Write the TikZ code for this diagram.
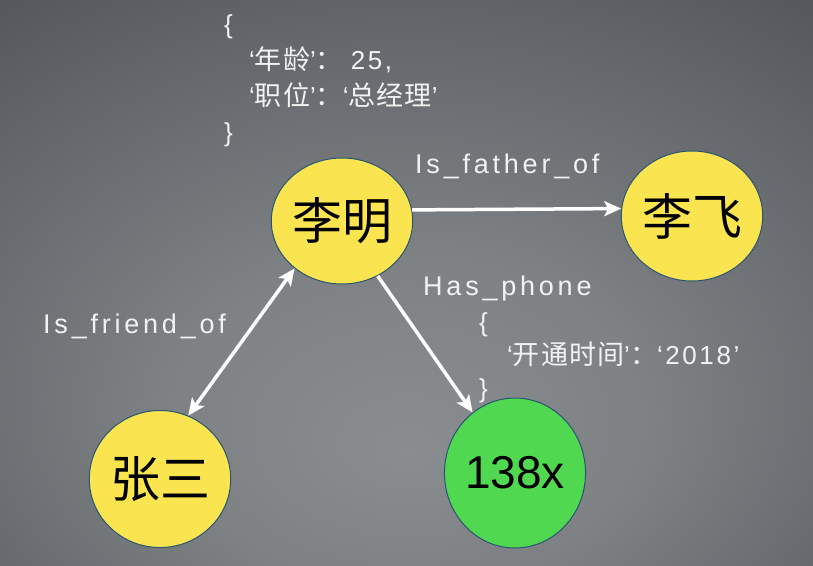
\documentclass[tikz,border=0pt]{standalone}
\usepackage{fontspec}
\setmainfont{Liberation Sans}
\newfontfamily\cjk{Noto Sans CJK SC}
\newfontfamily\cjkwide[LetterSpace=4]{Noto Sans CJK SC}
\newfontfamily\latinwide[LetterSpace=10]{Liberation Sans}
\newfontfamily\labelfont[LetterSpace=14]{Liberation Sans}
\usetikzlibrary{arrows.meta,positioning,shapes.geometric}

\definecolor{nodeyellow}{RGB}{250,229,80}
\definecolor{nodegreen}{RGB}{80,216,80}
\definecolor{nodeline}{RGB}{40,85,115}
\definecolor{bglight}{RGB}{138,141,143}
\definecolor{bgdark}{RGB}{60,63,69}
\definecolor{labeltext}{RGB}{242,242,242}

\pgfdeclareradialshading{slidebg}{\pgfpoint{0bp}{-15bp}}{color(0bp)=(bglight); color(15bp)=(bglight!85!bgdark); color(55bp)=(bgdark); color(75bp)=(bgdark)}

\newcommand{\zh}[1]{{\cjkwide\fontsize{27}{30}\selectfont #1}}

\tikzset{
  person/.style={ellipse,fill=nodeyellow,draw=nodeline,line width=1pt,inner sep=0pt,
    font=\cjk\fontsize{50}{50}\selectfont},
  phonenum/.style={person,fill=nodegreen,font=\fontsize{46}{46}\selectfont},
  reltext/.style={text=labeltext,inner sep=0pt,font=\labelfont\fontsize{27}{30}\selectfont},
  jsontext/.style={text=labeltext,inner sep=0pt,align=left,anchor=north west},
  link/.style={draw=white,line width=3.5pt,-{Stealth[length=17pt,width=15pt,inset=4pt]}}
}

\begin{document}
\begin{tikzpicture}[x=1pt,y=-1pt]
    \path[use as bounding box,shading=slidebg] (0,0) rectangle (813,565);

    % nodes
    \node[person,minimum width=135pt,minimum height=126pt] (liming) at (342,221) {李明};
    \node[person,minimum width=120pt,minimum height=130pt] (lifei)
        [right of=liming,node distance=350pt,yshift=5pt] {李飞};
    \node[person,minimum width=135pt,minimum height=137pt] (zhangsan)
        [below of=liming,node distance=258pt,xshift=-182pt] {张三};
    \node[phonenum,minimum width=136pt,minimum height=150pt] (phone)
        [below of=liming,node distance=252pt,xshift=173pt] {138x};

    % properties
    \node[jsontext,font=\latinwide\fontsize{26}{36}\selectfont] (limingattr) at (224,14)
        {\{\\\hspace*{25pt}‘\zh{年龄}’\zh{：}\hspace{8pt}25,\\\hspace*{25pt}‘\zh{职位}’\zh{：}‘\zh{总经理}’\\\}};
    \node[jsontext,font=\latinwide\fontsize{26}{33}\selectfont] (phoneattr) at (479,312)
        {\{\\\hspace*{28pt}‘\zh{开通时间}’\zh{：}‘2018’\\\}};

    % relations
    \node[reltext,anchor=base west] (fatherlbl) at (415,173) {Is\_father\_of};
    \node[reltext,anchor=base west] (phonelbl) at (423,295) {Has\_phone};
    \node[reltext,anchor=base west] (friendlbl) at (43,333) {Is\_friend\_of};

    \draw[link] (liming.9) -- (lifei.174);
    \draw[link,{Stealth[length=17pt,width=15pt,inset=4pt]}-{Stealth[length=17pt,width=15pt,inset=4pt]}]
        (liming.225) -- (zhangsan.66);
    \draw[link] (liming.303) -- (phone.125);
\end{tikzpicture}
\end{document}
